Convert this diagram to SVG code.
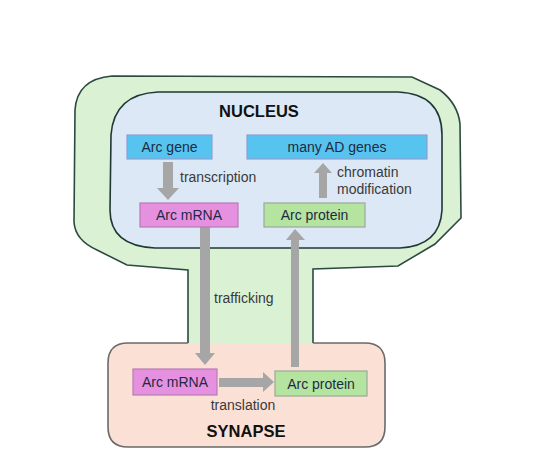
<svg xmlns="http://www.w3.org/2000/svg" width="534" height="462" viewBox="0 0 534 462">
<style>
.lbl{font-family:"Liberation Sans",Arial,sans-serif;font-size:14px;fill:#3a3a3a}
.bx{font-family:"Liberation Sans",Arial,sans-serif;font-size:14px;fill:#1e2a44;text-anchor:middle}
.ttl{font-family:"Liberation Sans",Arial,sans-serif;font-size:16.5px;font-weight:bold;fill:#111;text-anchor:middle}
.gene{fill:#57c4f0;stroke:#8f9fd2;stroke-width:1.2}
.mrna{fill:#e691e0;stroke:#b67cb4;stroke-width:1.2}
.prot{fill:#b5e4a1;stroke:#9ca89c;stroke-width:1.2}
.arr{fill:#a6a6a6}
</style>
<rect width="534" height="462" fill="#ffffff"/>
<g id="cell">
<path d="M75,110 Q77,79 112,76 L412,77 L440,90 Q458,104 460,124 L461,218 L435,244 L398,266 L313,269 L313,344 L188,344 L188,270 L127,265 L97,250 Q75,240 74,222 Z" fill="#daf1d4" stroke="#2b4a40" stroke-width="1.6"/>
</g>
<g id="synapse">
<path d="M188,343 L128,343 Q108,343 108,363 L108,427 Q108,447 128,447 L365,447 Q385,447 385,427 L385,363 Q385,343 365,343 L313,343" fill="#fbe1d5" stroke="#6a6a6a" stroke-width="1.6"/>
<text class="ttl" x="246" y="437">SYNAPSE</text>
</g>
<g id="nucleus">
<path d="M158,92 L398,92 Q442,94 442,135 L442,210 Q440,246 400,248 L155,248 Q110,246 110,210 L111,135 Q114,94 158,92 Z" fill="#dce8f5" stroke="#1f3836" stroke-width="1.6"/>
<text class="ttl" x="259" y="117">NUCLEUS</text>
</g>
<g id="connectors">
<polygon class="arr" points="163,162 173,162 173,188 179,188 168,200 157,188 163,188"/>
<polygon class="arr" points="319,198 327,198 327,173 332,173 323,163 314,173 319,173"/>
<polygon class="arr" points="200,227 210,227 210,353 215,353 205,365 195,353 200,353"/>
<polygon class="arr" points="291,367 299,367 299,240 305,240 295,229 286,240 291,240"/>
<polygon class="arr" points="219,378 263,378 263,372 274,382 263,392 263,387 219,387"/>
<text class="lbl" x="180" y="182">transcription</text>
<text class="lbl" x="337" y="177">chromatin</text>
<text class="lbl" x="337" y="194">modification</text>
<text class="lbl" x="214" y="303">trafficking</text>
<text class="lbl" x="243" y="410" text-anchor="middle">translation</text>
</g>
<g id="arc-gene">
<rect class="gene" x="127" y="135" width="85" height="24"/>
<text class="bx" x="169.5" y="152">Arc gene</text>
</g>
<g id="many-ad-genes">
<rect class="gene" x="247" y="135" width="180" height="24"/>
<text class="bx" x="337" y="152">many AD genes</text>
</g>
<g id="arc-mrna-nucleus">
<rect class="mrna" x="140" y="203" width="98" height="24"/>
<text class="bx" x="189" y="220">Arc mRNA</text>
</g>
<g id="arc-protein-nucleus">
<rect class="prot" x="264" y="203" width="101" height="24"/>
<text class="bx" x="314.5" y="220">Arc protein</text>
</g>
<g id="arc-mrna-synapse">
<rect class="mrna" x="133" y="369" width="84" height="26"/>
<text class="bx" x="175" y="387">Arc mRNA</text>
</g>
<g id="arc-protein-synapse">
<rect class="prot" x="275" y="371" width="92" height="25"/>
<text class="bx" x="321" y="388.5">Arc protein</text>
</g>
</svg>
